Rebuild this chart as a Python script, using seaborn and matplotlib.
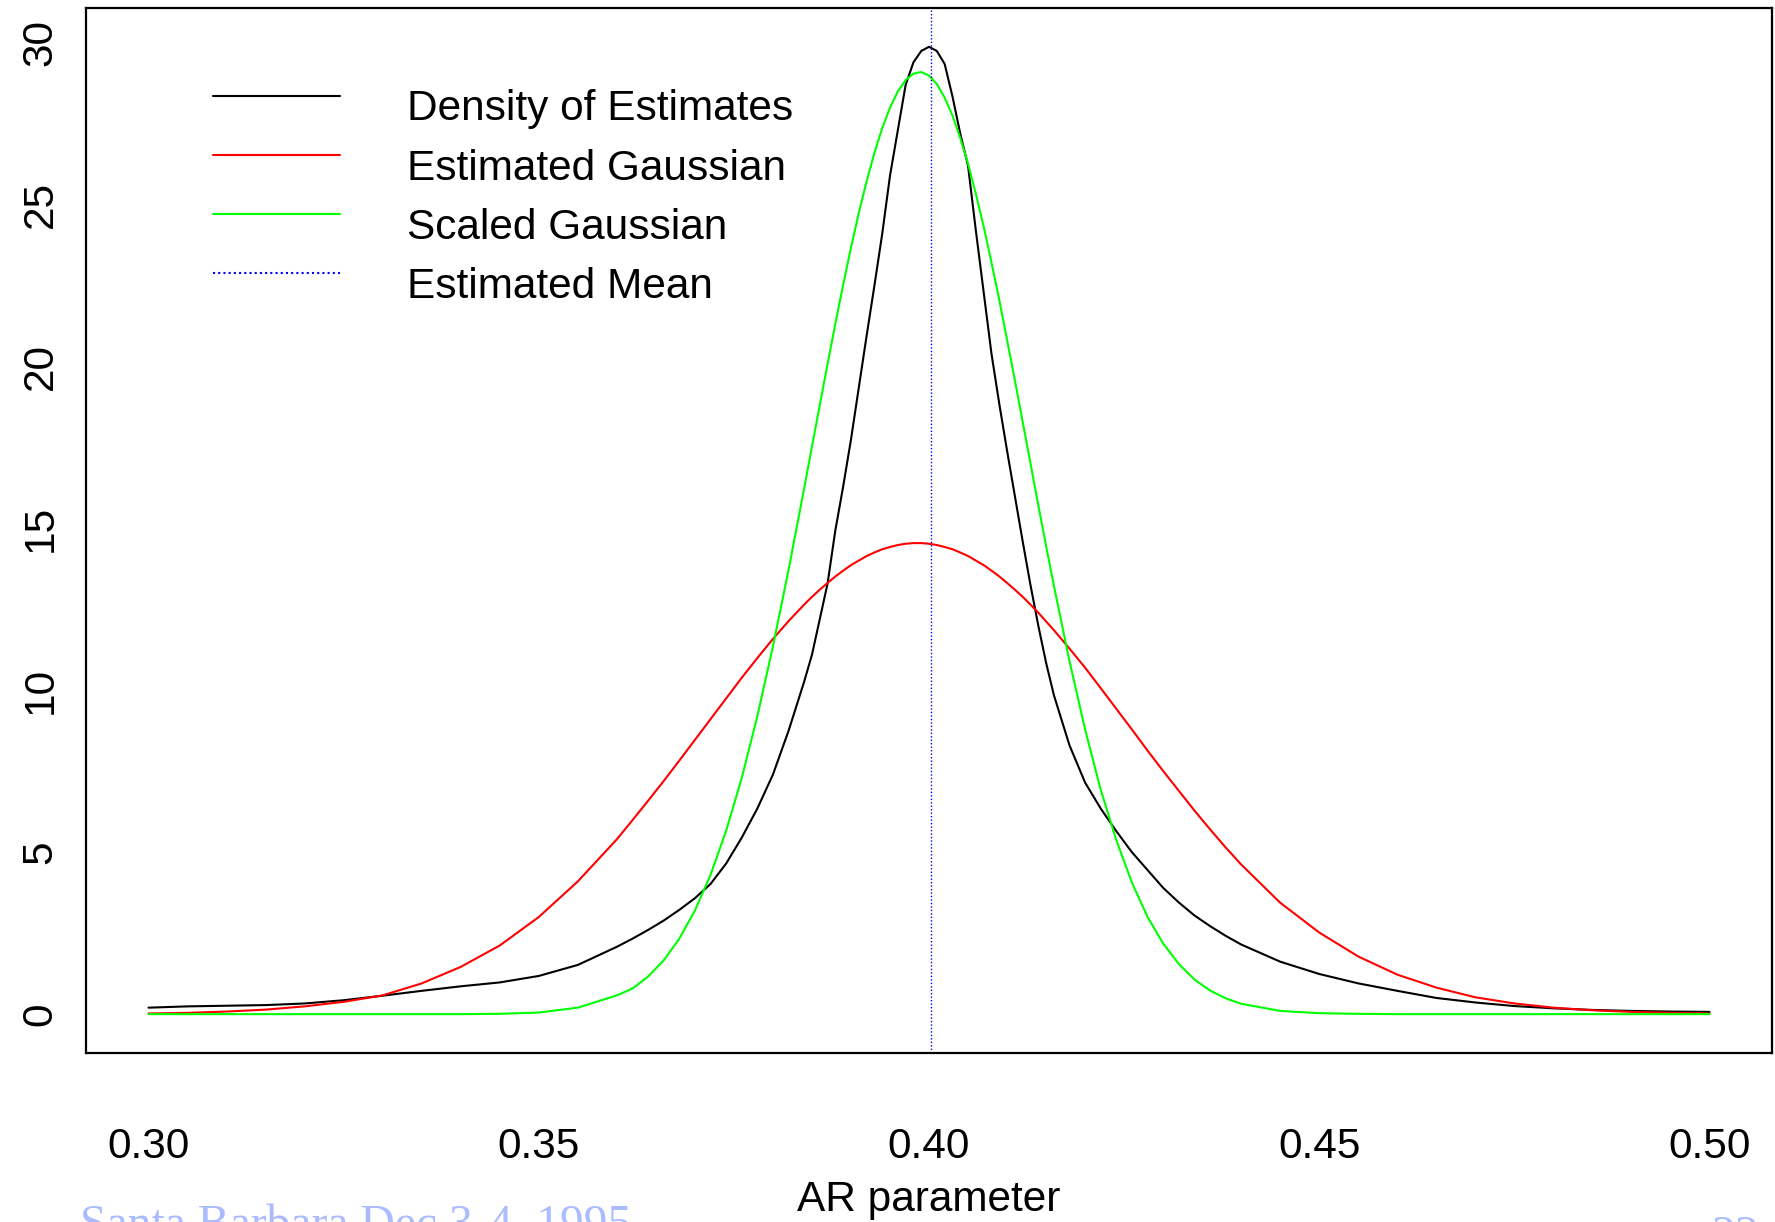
"""
AR 파라미터 추정치의 밀도와 가우시안 근사 비교 그림을 다시 그리는 스크립트.
"""
import numpy as np
import pandas as pd
import seaborn as sns
import matplotlib
matplotlib.use('Agg')
import matplotlib.pyplot as plt
from matplotlib.lines import Line2D
from matplotlib.legend_handler import HandlerLine2D

sns.set_style('white')
plt.rcParams['font.family'] = ['Liberation Sans', 'DejaVu Sans']
plt.rcParams['text.color'] = 'black'
plt.rcParams['axes.labelcolor'] = 'black'
plt.rcParams['xtick.color'] = 'black'
plt.rcParams['ytick.color'] = 'black'

# x 격자 (꼬리는 0.005, 중간은 0.002, 봉우리 근처는 0.001 간격)
x_left = np.arange(0.300, 0.3601, 0.005)
x_mid1 = np.arange(0.362, 0.3841, 0.002)
x_fine = np.arange(0.385, 0.4151, 0.001)
x_mid2 = np.arange(0.416, 0.4401, 0.002)
x_right = np.arange(0.445, 0.5001, 0.005)
ar_param = np.round(np.concatenate([x_left, x_mid1, x_fine, x_mid2, x_right]), 3)

# 그림에서 읽은 값
density_est = [0.20, 0.24, 0.26, 0.28, 0.33, 0.43, 0.57, 0.72, 0.86, 0.98, 1.18, 1.52, 2.08,
               2.33, 2.60, 2.89, 3.22, 3.58, 4.02, 4.65, 5.45, 6.35, 7.40, 8.75, 10.27,
               11.1, 12.2, 13.3, 14.95, 16.3, 17.75, 19.35, 20.95, 22.5, 24.1,
               25.9, 27.3, 28.7, 29.4, 29.75, 29.88, 29.75, 29.35, 28.35, 27.2,
               26.2, 24.2, 22.3, 20.4, 18.85, 17.4, 16.0, 14.6, 13.25, 12.0, 10.85,
               9.85, 8.30, 7.15, 6.35, 5.65, 5.00, 4.45, 3.90, 3.45, 3.05, 2.72, 2.42, 2.15,
               1.62, 1.24, 0.95, 0.72, 0.50, 0.36, 0.25, 0.18, 0.13, 0.10, 0.08, 0.07]
est_gauss = [0.02, 0.04, 0.08, 0.14, 0.24, 0.38, 0.58, 0.95, 1.46, 2.12, 3.00, 4.10, 5.40,
             5.99, 6.59, 7.20, 7.83, 8.47, 9.11, 9.75, 10.39, 11.00, 11.59, 12.14, 12.65,
             12.89, 13.11, 13.32, 13.52, 13.70, 13.87, 14.01, 14.15, 14.26, 14.36,
             14.43, 14.49, 14.53, 14.55, 14.55, 14.53, 14.49, 14.43, 14.36, 14.26,
             14.15, 14.01, 13.87, 13.70, 13.52, 13.32, 13.11, 12.89, 12.65, 12.40, 12.13,
             11.86, 11.29, 10.70, 10.07, 9.43, 8.79, 8.14, 7.51, 6.90, 6.29, 5.71, 5.15, 4.62,
             3.44, 2.52, 1.78, 1.22, 0.82, 0.52, 0.33, 0.20, 0.12, 0.07, 0.04, 0.02]
scaled_gauss = [0, 0, 0, 0, 0, 0, 0, 0, 0, 0.01, 0.05, 0.20, 0.58,
                0.79, 1.16, 1.66, 2.33, 3.20, 4.30, 5.66, 7.29, 9.20, 11.36, 13.72, 16.24,
                17.53, 18.81, 20.08, 21.33, 22.53, 23.68, 24.75, 25.72, 26.60, 27.37,
                28.00, 28.50, 28.85, 29.05, 29.10, 28.99, 28.73, 28.31, 27.76, 27.06,
                26.27, 25.34, 24.33, 23.22, 22.06, 20.82, 19.58, 18.29, 17.01, 15.72, 14.46,
                13.23, 10.90, 8.79, 6.93, 5.37, 4.06, 3.00, 2.18, 1.55, 1.07, 0.73, 0.49, 0.32,
                0.10, 0.03, 0.01, 0, 0, 0, 0, 0, 0, 0, 0, 0]
est_mean = 0.4002

curve_names = ['Density of Estimates', 'Estimated Gaussian', 'Scaled Gaussian']
curve_colors = ['black', '#ff0000', '#00ff00']
legend_labels = curve_names + ['Estimated Mean']
x_ticks = [0.30, 0.35, 0.40, 0.45, 0.50]
y_ticks = [0, 5, 10, 15, 20, 25, 30]

FS = 30.5

df = pd.DataFrame({'AR parameter': ar_param,
                   curve_names[0]: density_est,
                   curve_names[1]: est_gauss,
                   curve_names[2]: scaled_gauss})
df_long = df.melt(id_vars='AR parameter', var_name='curve', value_name='density')


class RaisedLine(HandlerLine2D):
    # 범례 선을 글자보다 조금 위에 놓기 위한 핸들러
    def __init__(self, dy, **kw):
        super().__init__(**kw)
        self.dy = dy

    def create_artists(self, legend, orig_handle, xdescent, ydescent, width, height, fontsize, trans):
        arts = super().create_artists(legend, orig_handle, xdescent, ydescent, width, height, fontsize, trans)
        for a in arts:
            a.set_ydata(np.asarray(a.get_ydata()) + self.dy)
        return arts


fig = plt.figure(figsize=(17.75, 12.22), dpi=100)
ax = fig.add_axes([0.0485, 0.1383, 0.9498, 0.8552])

sns.lineplot(data=df_long, x='AR parameter', y='density', hue='curve',
             palette=dict(zip(curve_names, curve_colors)), hue_order=curve_names,
             linewidth=1.5, estimator=None, sort=False, legend=False, ax=ax)
ax.axvline(est_mean, color='blue', linestyle=(0, (1, 1.5)), linewidth=1.0)

ax.set_xlim(0.292, 0.508)
ax.set_ylim(-1.2, 31.08)
ax.set_xticks(x_ticks)
ax.set_xticklabels([f'{t:.2f}' for t in x_ticks])
ax.set_yticks(y_ticks)
ax.set_yticklabels([str(t) for t in y_ticks])
ax.tick_params(axis='both', direction='out', length=14.5, width=1.4, labelsize=FS, colors='black')
ax.tick_params(axis='x', pad=38.8)
ax.tick_params(axis='y', pad=4)
for lab in ax.get_yticklabels():
    lab.set_rotation(90)
    lab.set_va('center')
for sp in ax.spines.values():
    sp.set_visible(True)
    sp.set_color('black')
    sp.set_linewidth(1.6)

ax.set_xlabel('AR parameter', fontsize=FS, labelpad=9.5)
ax.set_ylabel('')

handles = [Line2D([], [], color=c, linewidth=1.5) for c in curve_colors]
handles.append(Line2D([], [], color='blue', linestyle=(0, (1, 1.5)), linewidth=1.5))
ax.legend(handles, legend_labels, loc='upper left', bbox_to_anchor=(0.0753, 0.922),
          frameon=False, borderpad=0, borderaxespad=0, handlelength=3.0,
          handletextpad=1.58, labelspacing=0.45, fontsize=FS,
          handler_map={Line2D: RaisedLine(7)})

# 슬라이드 바닥글 (아래쪽이 잘려 있음)
fig.text(80 / 1775, -16 / 1222, 'Santa Barbara Dec 3-4, 1995', color='#aabbff',
         fontsize=34.3, family=['Liberation Serif', 'DejaVu Serif'], ha='left', va='baseline')
fig.text(1712 / 1775, -27 / 1222, '22', color='#aabbff',
         fontsize=34.3, family=['Liberation Serif', 'DejaVu Serif'], ha='left', va='baseline')

fig.savefig('out.png', dpi=100)
